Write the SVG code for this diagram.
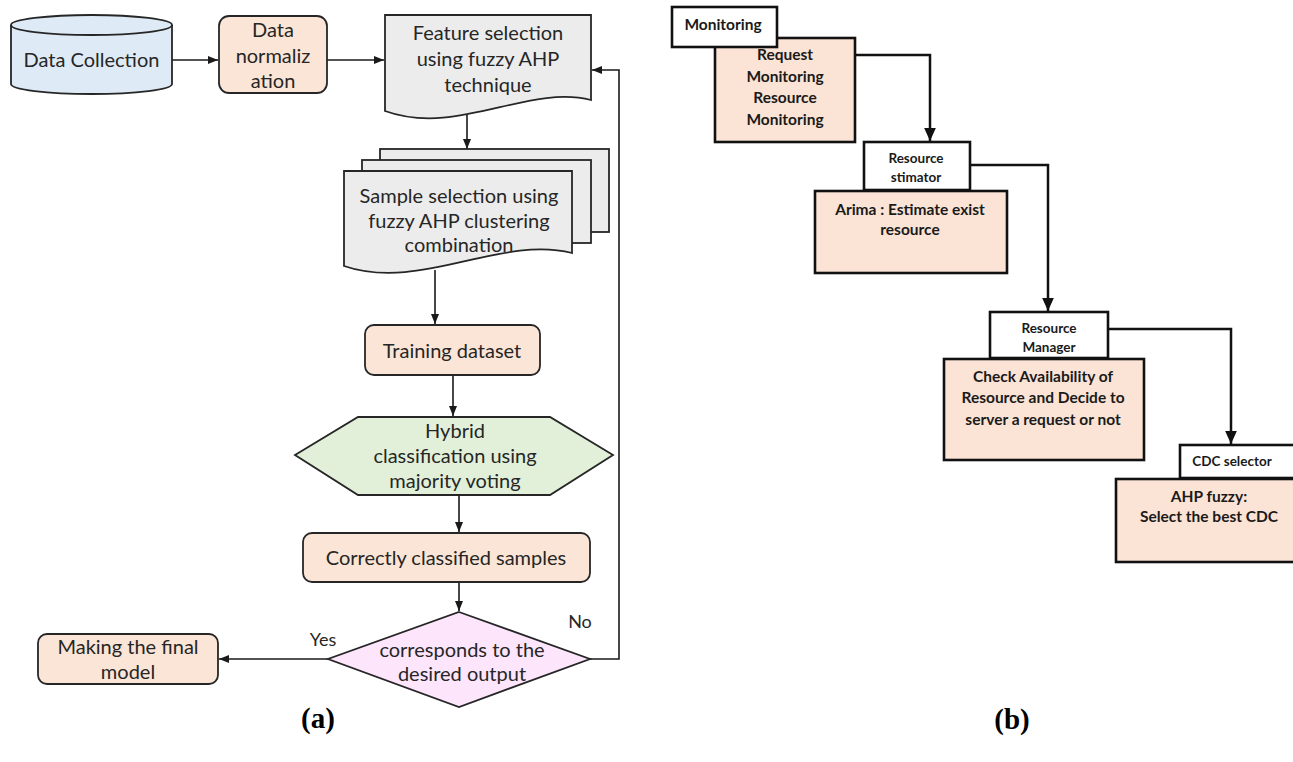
<svg xmlns="http://www.w3.org/2000/svg" width="1293" height="762" viewBox="0 0 1293 762">
<defs>
<style>
.t{font-family:Lato,"Liberation Sans",sans-serif;font-size:20px;fill:#262626;text-anchor:middle}
.b{font-family:Lato,"Liberation Sans",sans-serif;font-size:15.5px;font-weight:bold;fill:#1a1a1a;text-anchor:middle}
.s{font-family:Lato,"Liberation Sans",sans-serif;font-size:13.5px;font-weight:bold;fill:#1a1a1a;text-anchor:middle}
.cap{font-family:"Liberation Serif",serif;font-size:29px;font-weight:bold;fill:#000;text-anchor:middle}
.peach{fill:#fbe5d6;stroke:#262626;stroke-width:1.8}
.doc{fill:#ececec;stroke:#262626;stroke-width:1.8}
.rp{fill:#fbe4d5;stroke:#111;stroke-width:2.6}
.rw{fill:#fff;stroke:#111;stroke-width:2.6}
.cl{fill:none;stroke:#1a1a1a;stroke-width:1.6}
.cr{fill:none;stroke:#111;stroke-width:2.5}
</style>
<marker id="ah" markerUnits="userSpaceOnUse" markerWidth="10" markerHeight="10" viewBox="0 0 10 10" refX="10" refY="5" orient="auto"><path d="M0,1 L10,5 L0,9 Z" fill="#1a1a1a"/></marker>
<marker id="ahr" markerUnits="userSpaceOnUse" markerWidth="13" markerHeight="13" viewBox="0 0 10 10" refX="10" refY="5" orient="auto"><path d="M0,0.5 L10,5 L0,9.5 Z" fill="#111"/></marker>
</defs>
<rect width="1293" height="762" fill="#fff"/>

<g id="connectors">
<path class="cl" d="M172,60 H218" marker-end="url(#ah)"/>
<path class="cl" d="M327,60 H384" marker-end="url(#ah)"/>
<path class="cl" d="M467,113 V149" marker-end="url(#ah)"/>
<path class="cl" d="M435,270 V324" marker-end="url(#ah)"/>
<path class="cl" d="M453,375 V416" marker-end="url(#ah)"/>
<path class="cl" d="M459,495 V532" marker-end="url(#ah)"/>
<path class="cl" d="M459,582 V611" marker-end="url(#ah)"/>
<path class="cl" d="M328,659 H219" marker-end="url(#ah)"/>
<path class="cl" d="M590,659 H619 V70 H592" marker-end="url(#ah)"/>
<path class="cr" d="M855,55 H930 V141" marker-end="url(#ahr)"/>
<path class="cr" d="M970,165 H1048 V311" marker-end="url(#ahr)"/>
<path class="cr" d="M1108,329 H1231 V444" marker-end="url(#ahr)"/>
</g>

<g id="data-collection">
<path d="M11,25 V84 A80.5,10 0 0 0 172,84 V25" fill="#deebf7" stroke="#262626" stroke-width="1.8"/>
<ellipse cx="91.5" cy="25" rx="80.5" ry="10" fill="#deebf7" stroke="#262626" stroke-width="1.8"/>
<text class="t" x="91.5" y="67">Data Collection</text>
</g>

<g id="data-normalization">
<rect class="peach" x="219" y="16" width="108" height="77" rx="10"/>
<text class="t" x="273" y="37">Data</text>
<text class="t" x="273" y="62.5">normaliz</text>
<text class="t" x="273" y="88">ation</text>
</g>

<g id="feature-selection">
<path class="doc" d="M385,15 H591 V100 C528,84 457,137 385,111 Z"/>
<text class="t" x="488" y="40">Feature selection</text>
<text class="t" x="488" y="66">using fuzzy AHP</text>
<text class="t" x="488" y="92">technique</text>
</g>

<g id="sample-selection">
<rect class="doc" x="380" y="149" width="229" height="83"/>
<rect class="doc" x="362" y="160" width="229" height="83"/>
<path class="doc" d="M344,171 H572 V253 C500,235 420,292 344,266 Z"/>
<text class="t" x="459" y="203">Sample selection using</text>
<text class="t" x="459" y="228">fuzzy AHP clustering</text>
<text class="t" x="459" y="252">combination</text>
</g>

<g id="training-dataset">
<rect class="peach" x="365" y="325" width="175" height="50" rx="9"/>
<text class="t" x="452" y="358">Training dataset</text>
</g>

<g id="hybrid-classification">
<path d="M295,455 L358,417 H550 L613,455 L550,495 H358 Z" fill="#e2f0d9" stroke="#262626" stroke-width="1.8"/>
<text class="t" x="455" y="438">Hybrid</text>
<text class="t" x="455" y="463">classification using</text>
<text class="t" x="455" y="488">majority voting</text>
</g>

<g id="correctly-classified">
<rect class="peach" x="303" y="533" width="287" height="49" rx="9"/>
<text class="t" x="446" y="565">Correctly classified samples</text>
</g>

<g id="decision">
<path d="M459,612 L590,659 L459,707 L328,659 Z" fill="#fde5fc" stroke="#262626" stroke-width="1.8"/>
<text class="t" x="462" y="657">corresponds to the</text>
<text class="t" x="462" y="681">desired output</text>
<text class="t" x="323" y="646" style="font-size:18px">Yes</text>
<text class="t" x="580" y="628" style="font-size:18px">No</text>
</g>

<g id="final-model">
<rect class="peach" x="38" y="634" width="180" height="50" rx="9"/>
<text class="t" x="128" y="654">Making the final</text>
<text class="t" x="128" y="679">model</text>
</g>

<text class="cap" x="318" y="728">(a)</text>

<g id="request-monitoring">
<rect class="rp" x="715" y="38" width="140" height="104"/>
<text class="b" x="785" y="60">Request</text>
<text class="b" x="785" y="82">Monitoring</text>
<text class="b" x="785" y="103">Resource</text>
<text class="b" x="785" y="125">Monitoring</text>
</g>
<g id="monitoring">
<rect class="rw" x="672" y="7" width="105" height="40"/>
<text class="b" x="723" y="30">Monitoring</text>
</g>

<g id="resource-stimator">
<rect class="rw" x="864" y="142" width="106" height="48"/>
<text class="s" x="916" y="163">Resource</text>
<text class="s" x="916" y="182">stimator</text>
</g>
<g id="arima">
<rect class="rp" x="815" y="191" width="192" height="82"/>
<text class="b" x="910" y="215">Arima : Estimate exist</text>
<text class="b" x="910" y="235">resource</text>
</g>

<g id="resource-manager">
<rect class="rw" x="990" y="312" width="118" height="46"/>
<text class="s" x="1049" y="333">Resource</text>
<text class="s" x="1049" y="352">Manager</text>
</g>
<g id="check-availability">
<rect class="rp" x="944" y="359" width="200" height="101"/>
<text class="b" x="1043" y="382">Check Availability of</text>
<text class="b" x="1043" y="403">Resource and Decide to</text>
<text class="b" x="1043" y="425">server a request or not</text>
</g>

<g id="cdc-selector">
<rect class="rw" x="1180" y="445" width="116" height="33"/>
<text class="s" x="1232" y="466">CDC selector</text>
</g>
<g id="ahp-fuzzy">
<rect class="rp" x="1116" y="479" width="180" height="83"/>
<text class="b" x="1209" y="502">AHP fuzzy:</text>
<text class="b" x="1209" y="522">Select the best CDC</text>
</g>

<text class="cap" x="1012" y="729">(b)</text>
</svg>
